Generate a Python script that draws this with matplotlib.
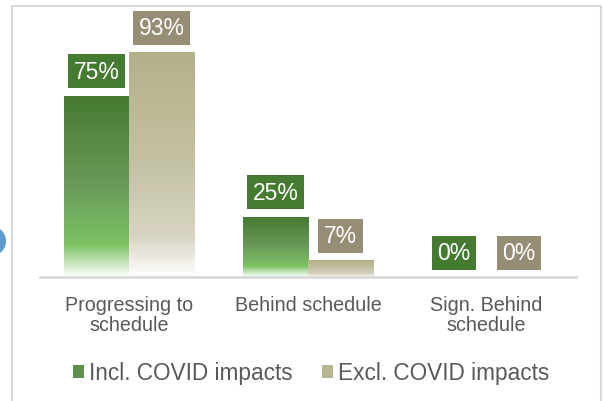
import numpy as np
import matplotlib.pyplot as plt
from matplotlib.colors import LinearSegmentedColormap
from matplotlib.patches import Rectangle, Circle

plt.rcParams['font.family'] = ['Liberation Sans', 'DejaVu Sans']

# Datos
categorias = ["Progressing to\nschedule", "Behind schedule", "Sign. Behind\nschedule"]
incl_covid = [75, 25, 0]
excl_covid = [93, 7, 0]
series = ["Incl. COVID impacts", "Excl. COVID impacts"]

# Colores
verde_etiqueta = "#457A31"
tan_etiqueta = "#958D74"
gris_texto = "#595959"

cmap_verde = LinearSegmentedColormap.from_list(
    "verde", [(0, "#457A30"), (0.5, "#6A9A5A"), (0.82, "#7CC263"), (1, "#FFFFFF")])
cmap_tan = LinearSegmentedColormap.from_list(
    "tan", [(0, "#B4B088"), (0.5, "#C4C2A4"), (0.82, "#D8D4C2"), (1, "#FFFFFF")])

fig = plt.figure(figsize=(6.03, 4.02), dpi=100)
ax = fig.add_axes([40 / 603, 1 - 278 / 402, 536 / 603, 242 / 402])

x = np.arange(len(categorias))
ancho = 0.364

barras1 = ax.bar(x - ancho / 2, incl_covid, ancho, facecolor="none", edgecolor="none")
barras2 = ax.bar(x + ancho / 2, excl_covid, ancho, facecolor="none", edgecolor="none")

gradiente = np.linspace(0, 1, 256).reshape(-1, 1)

# Rellenar las barras con degradado
for barras, cmap in [(barras1, cmap_verde), (barras2, cmap_tan)]:
    for b in barras:
        h = b.get_height()
        if h <= 0:
            continue
        x0 = b.get_x()
        w = b.get_width()
        im = ax.imshow(gradiente, cmap=cmap, aspect="auto",
                       extent=[x0, x0 + w, 0, h], origin="upper", zorder=2)
        im.set_clip_path(b)

# Etiquetas de valores
for barras, valores, color in [(barras1, incl_covid, verde_etiqueta),
                               (barras2, excl_covid, tan_etiqueta)]:
    for b, v in zip(barras, valores):
        ax.text(b.get_x() + b.get_width() / 2, v + 5.2, f"{v}%",
                ha="center", va="bottom", fontsize=16.5, color="white",
                bbox=dict(boxstyle="square,pad=0.24", facecolor=color, edgecolor="none"),
                clip_on=False, zorder=5)

ax.set_xlim(-0.5, 2.5)
ax.set_ylim(0, 100)

for s in ["top", "right", "left"]:
    ax.spines[s].set_visible(False)
ax.spines["bottom"].set_color("#D9D9D9")
ax.spines["bottom"].set_linewidth(2)
ax.set_yticks([])
ax.set_xticks(x)
ax.set_xticklabels(categorias, fontsize=14.2, color=gris_texto, linespacing=1.05)
ax.tick_params(axis="x", length=0, pad=13)

# Leyenda
handles = [Rectangle((0, 0), 1, 1, facecolor="#5E8F4B", edgecolor="none"),
           Rectangle((0, 0), 1, 1, facecolor="#B8B593", edgecolor="none")]
fig.legend(handles, series, loc="center", bbox_to_anchor=(311 / 603, 1 - 374 / 402),
           ncol=2, frameon=False, fontsize=16.3, labelcolor=gris_texto,
           handlelength=0.5, handleheight=0.5, handletextpad=0.2, columnspacing=1.3)

# Marco del gráfico
fig.patches.append(Rectangle((12 / 603, -0.01), 589 / 603, 1 - 7 / 402 + 0.01,
                             transform=fig.transFigure, facecolor="none",
                             edgecolor="#D9D9D9", linewidth=1.5))

# Resto azul del borde izquierdo
fig.patches.append(Circle((-0.09, 1.6), 0.15, transform=fig.dpi_scale_trans,
                          facecolor="#5B9BCF", edgecolor="none"))

fig.savefig("out.png", dpi=100)
